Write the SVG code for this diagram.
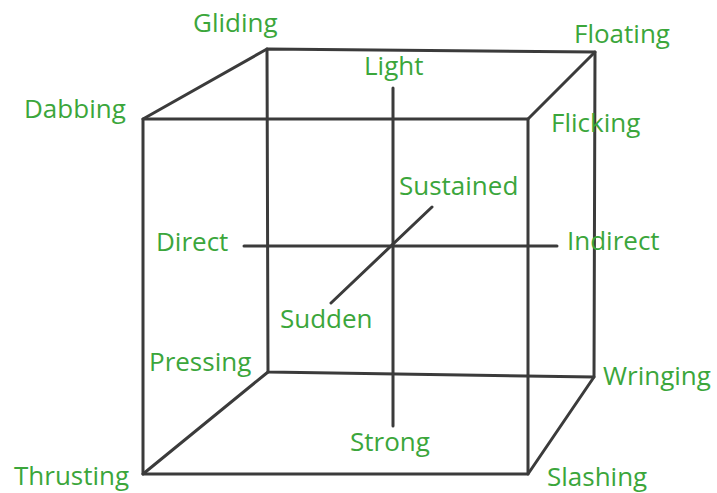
<svg xmlns="http://www.w3.org/2000/svg" width="717" height="493" viewBox="0 0 717 493">
<style>
.e{fill:none;stroke:#3b3b3b;stroke-width:3;stroke-linecap:round;stroke-linejoin:round}
.t{font-family:"Open Sans","Noto Sans",sans-serif;font-size:26px;fill:#3ba63b}
</style>
<rect width="717" height="493" fill="#fff"/>
<g id="connectors">
<polyline class="e" points="143,474 528,474 528,119 143,119 143,474"/>
<polyline class="e" points="268,372 594,377 595,52 267,49 268,372"/>
<line class="e" x1="143" y1="119" x2="267" y2="49"/>
<line class="e" x1="528" y1="119" x2="595" y2="52"/>
<line class="e" x1="528" y1="474" x2="594" y2="377"/>
<line class="e" x1="143" y1="474" x2="268" y2="372"/>
<line class="e" x1="393" y1="88" x2="393" y2="426"/>
<line class="e" x1="244" y1="246" x2="557" y2="246"/>
<line class="e" x1="331" y1="303" x2="432" y2="207"/>
</g>
<g id="gliding"><text class="t" x="193" y="32">Gliding</text></g>
<g id="floating"><text class="t" x="574" y="43">Floating</text></g>
<g id="dabbing"><text class="t" x="24" y="118">Dabbing</text></g>
<g id="flicking"><text class="t" x="551" y="132">Flicking</text></g>
<g id="light"><text class="t" x="364" y="75">Light</text></g>
<g id="sustained"><text class="t" x="399" y="195">Sustained</text></g>
<g id="direct"><text class="t" x="156" y="251">Direct</text></g>
<g id="indirect"><text class="t" x="567" y="250">Indirect</text></g>
<g id="sudden"><text class="t" x="280" y="328">Sudden</text></g>
<g id="pressing"><text class="t" x="149" y="371">Pressing</text></g>
<g id="wringing"><text class="t" x="603" y="385">Wringing</text></g>
<g id="strong"><text class="t" x="350" y="451">Strong</text></g>
<g id="thrusting"><text class="t" x="14" y="485">Thrusting</text></g>
<g id="slashing"><text class="t" x="547" y="486">Slashing</text></g>
</svg>
